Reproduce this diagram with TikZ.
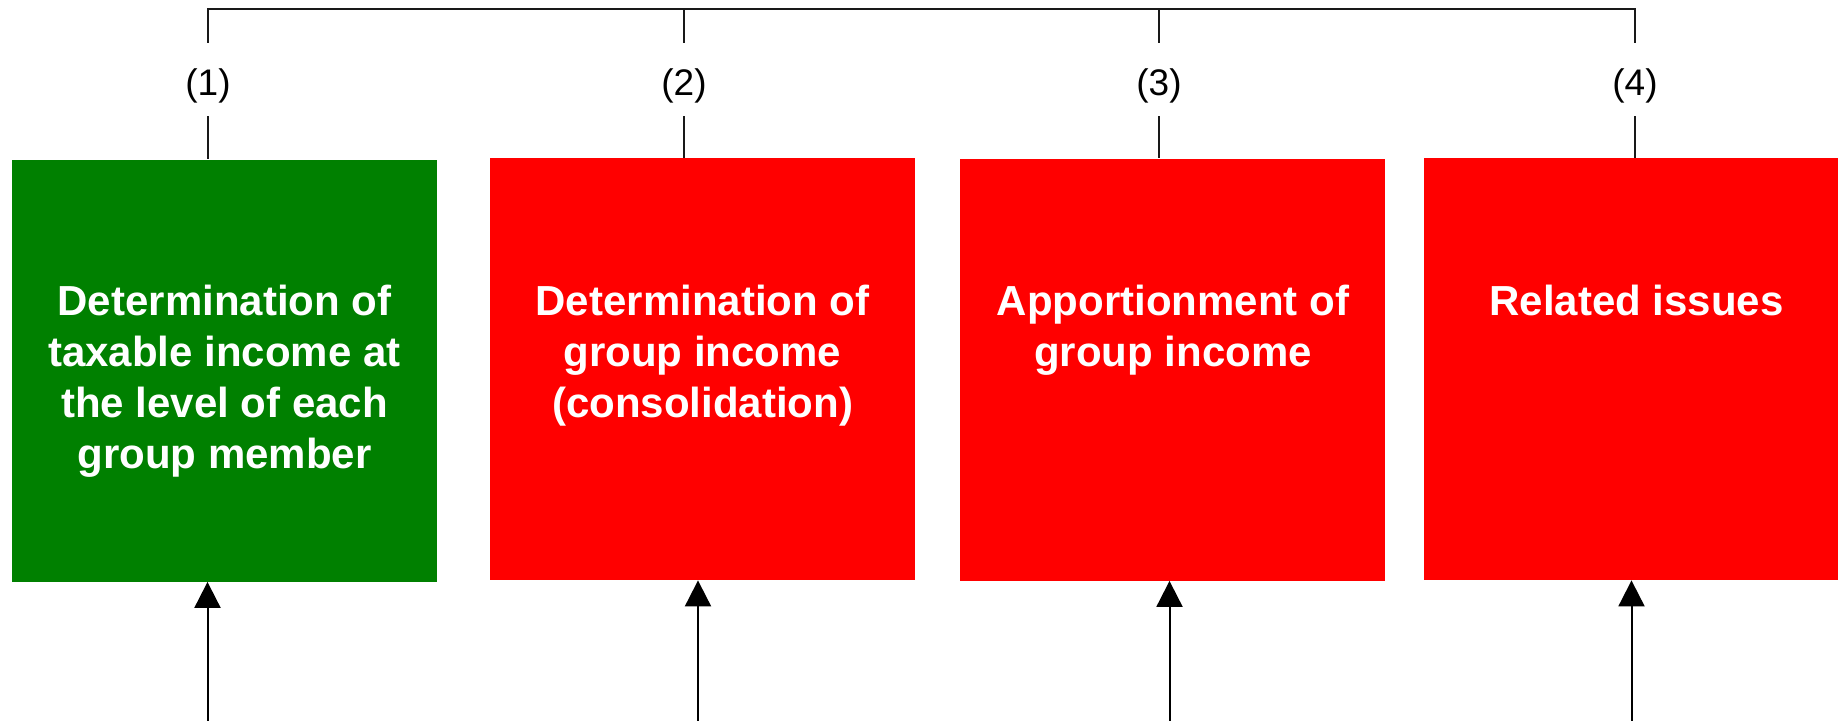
\documentclass[tikz,border=0pt]{standalone}
\usepackage{fontspec}
\setmainfont{Liberation Sans}
\usetikzlibrary{arrows.meta}
\definecolor{boxgreen}{HTML}{008000}
\definecolor{boxred}{HTML}{FF0000}
\begin{document}
\begin{tikzpicture}[x=0.5pt,y=-0.5pt,
  stage/.style={rectangle, inner sep=0pt, minimum width=212.5pt, minimum height=211pt},
  boxtext/.style={anchor=base, align=center, text=white, inner sep=0pt,
    font=\fontsize{21}{25.5}\selectfont\bfseries},
  numlabel/.style={anchor=base, inner sep=0pt, text height=26pt, text depth=10.5pt,
    font=\fontsize{18.5}{22}\selectfont},
  wire/.style={draw=black!90, line width=1pt, line join=miter},
  feed/.style={draw=black, line width=1pt, -{Triangle[length=13pt,width=13pt]}}]
\useasboundingbox (0,0) rectangle (1838,720);
\clip (0,0) rectangle (1838,720);
% boxes
\node[stage, fill=boxgreen] (B1) at (224.5,370.5) {};
\node[stage, fill=boxred] (B2) at (702.5,369) {};
\node[stage, fill=boxred] (B3) at (1172.5,369.5) {};
\node[stage, fill=boxred] (B4) at (1636.5,369) {};
% box texts (base anchor = baseline of the last line)
\node[boxtext] (T1) at (224.5,468.5) {Determination of\\taxable income at\\the level of each\\group member};
\node[boxtext] (T2) at (702.5,417.5) {Determination of\\group income\\(consolidation)};
\node[boxtext] (T3) at (1173,366.5) {Apportionment of\\group income};
\node[boxtext] (T4) at (1636.5,315.5) {Related issues};
% number labels
\node[numlabel] (L1) at (208,95) {(1)};
\node[numlabel] (L2) at (684,95) {(2)};
\node[numlabel] (L3) at (1159,95) {(3)};
\node[numlabel] (L4) at (1635,95) {(4)};
% top bus
\coordinate (U1) at (208,8.5);
\coordinate (U2) at (684,8.5);
\coordinate (U3) at (1159,8.5);
\coordinate (U4) at (1635,8.5);
\draw[wire] (L1.north) -- (U1) -- (U4) -- (L4.north);
\draw[wire] (L2.north) -- (U2);
\draw[wire] (L3.north) -- (U3);
\draw[wire] (L1.south) -- (L1.south |- B1.north);
\draw[wire] (L2.south) -- (L2.south |- B2.north);
\draw[wire] (L3.south) -- (L3.south |- B3.north);
\draw[wire] (L4.south) -- (L4.south |- B4.north);
% incoming arrows
\coordinate (S1) at (207.5,722);
\coordinate (S2) at (698,722);
\coordinate (S3) at (1169.5,722);
\coordinate (S4) at (1631.5,722);
\draw[feed] (S1) -- (S1 |- B1.south);
\draw[feed] (S2) -- (S2 |- B2.south);
\draw[feed] (S3) -- (S3 |- B3.south);
\draw[feed] (S4) -- (S4 |- B4.south);
\end{tikzpicture}
\end{document}
